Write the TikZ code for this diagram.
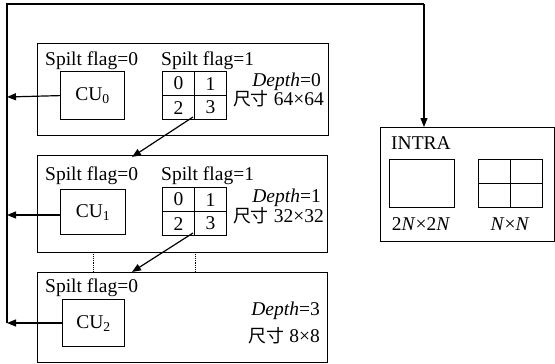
\documentclass[tikz,border=0pt]{standalone}
\usepackage{fontspec}
\setmainfont{Liberation Serif}
\newfontfamily\cjk[Scale=0.92]{Noto Sans CJK SC}
\usetikzlibrary{arrows.meta}
\tikzset{
  blk/.style={draw, line width=1.2pt, inner sep=0pt, anchor=north west},
  cell/.style={draw, line width=1.2pt, inner sep=0pt, anchor=north west, minimum width=32pt, minimum height=24pt},
  lbl/.style={inner sep=0pt, anchor=base west},
  rlbl/.style={inner sep=0pt, anchor=base east},
  conn/.style={line width=1.2pt, -{Triangle[length=9pt,width=7pt]}},
  dots/.style={line width=0.9pt, densely dotted}
}
\begin{document}
\begin{tikzpicture}[x=1pt,y=-1pt, font=\fontsize{19.5}{21}\selectfont]
\useasboundingbox (0,0) rectangle (555,364);
% level boxes
\node[blk, minimum width=291pt, minimum height=92pt] (L0) at (37,43) {};
\node[blk, minimum width=290pt, minimum height=97pt] (L1) at (37,155) {};
\node[blk, minimum width=290pt, minimum height=90pt] (L2) at (37,272) {};
% CU boxes
\node[blk, minimum width=64pt, minimum height=48pt] (cu0) at (60,71) {};
\node at (cu0.center) {CU\textsubscript{0}};
\node[blk, minimum width=65pt, minimum height=45pt] (cu1) at (60,189) {};
\node at (cu1.center) {CU\textsubscript{1}};
\node[blk, minimum width=62pt, minimum height=47pt] (cu2) at (62,299) {};
\node at (cu2.center) {CU\textsubscript{2}};
% grids
\node[cell] (g0a) at (162,71) {0};
\node[cell] (g0b) at (194,71) {1};
\node[cell] (g0c) at (162,95) {2};
\node[cell] (g0d) at (194,95) {3};
\node[cell] (g1a) at (162,187) {0};
\node[cell] (g1b) at (194,187) {1};
\node[cell] (g1c) at (162,211) {2};
\node[cell] (g1d) at (194,211) {3};
% labels
\node[lbl] (f00) at (45,65) {Spilt flag=0};
\node[lbl] (f01) at (161,65) {Spilt flag=1};
\node[lbl] (f10) at (45,180) {Spilt flag=0};
\node[lbl] (f11) at (161,180) {Spilt flag=1};
\node[lbl] (f20) at (45,292) {Spilt flag=0};
\node[rlbl] (d0) at (321,86) {\textit{Depth}=0};
\node[rlbl] (s0) at (324,105) {{\cjk 尺寸} 64×64};
\node[rlbl] (d1) at (321,202) {\textit{Depth}=1};
\node[rlbl] (s1) at (324,222) {{\cjk 尺寸} 32×32};
\node[rlbl] (d2) at (320,315) {\textit{Depth}=3};
\node[rlbl] (s2) at (320,342) {{\cjk 尺寸} 8×8};
% INTRA
\node[blk, minimum width=174pt, minimum height=114pt] (intra) at (380,127) {};
\node[lbl] (it) at (391,149) {INTRA};
\node[blk, minimum width=65pt, minimum height=48pt] (p2n) at (389,159) {};
\node[blk, minimum width=32pt, minimum height=24pt] (pa) at (478,159) {};
\node[blk, minimum width=32pt, minimum height=24pt] (pb) at (510,159) {};
\node[blk, minimum width=32pt, minimum height=24pt] (pc) at (478,183) {};
\node[blk, minimum width=32pt, minimum height=24pt] (pd) at (510,183) {};
\node[inner sep=0pt, anchor=base] (t2n) at (421,230) {2\textit{N}×2\textit{N}};
\node[inner sep=0pt, anchor=base] (tn) at (510,230) {\textit{N}×\textit{N}};
% outer connectors
\coordinate (tl) at (7,4);
\coordinate (tr) at (424,4);
\coordinate (a0) at (7,97);
\coordinate (a1) at (7,215);
\coordinate (a2) at (7,323);
\draw[line width=1.2pt] (a2) -- (tl) -- (tr);
\draw[conn] (tr) -- (intra.north -| tr);
\draw[conn] (cu0.west) -- (a0);
\draw[conn] (cu1.west |- a1) -- (a1);
\draw[conn] (cu2.west |- a2) -- (a2);
% split arrows
\coordinate (e1) at (132,157);
\coordinate (e2) at (132,272);
\draw[conn] (193,117) -- (e1);
\draw[conn] (193,233) -- (e2);
% dotted
\draw[dots] (93,252) -- (93,272);
\draw[dots] (195,252) -- (195,272);
\end{tikzpicture}
\end{document}
